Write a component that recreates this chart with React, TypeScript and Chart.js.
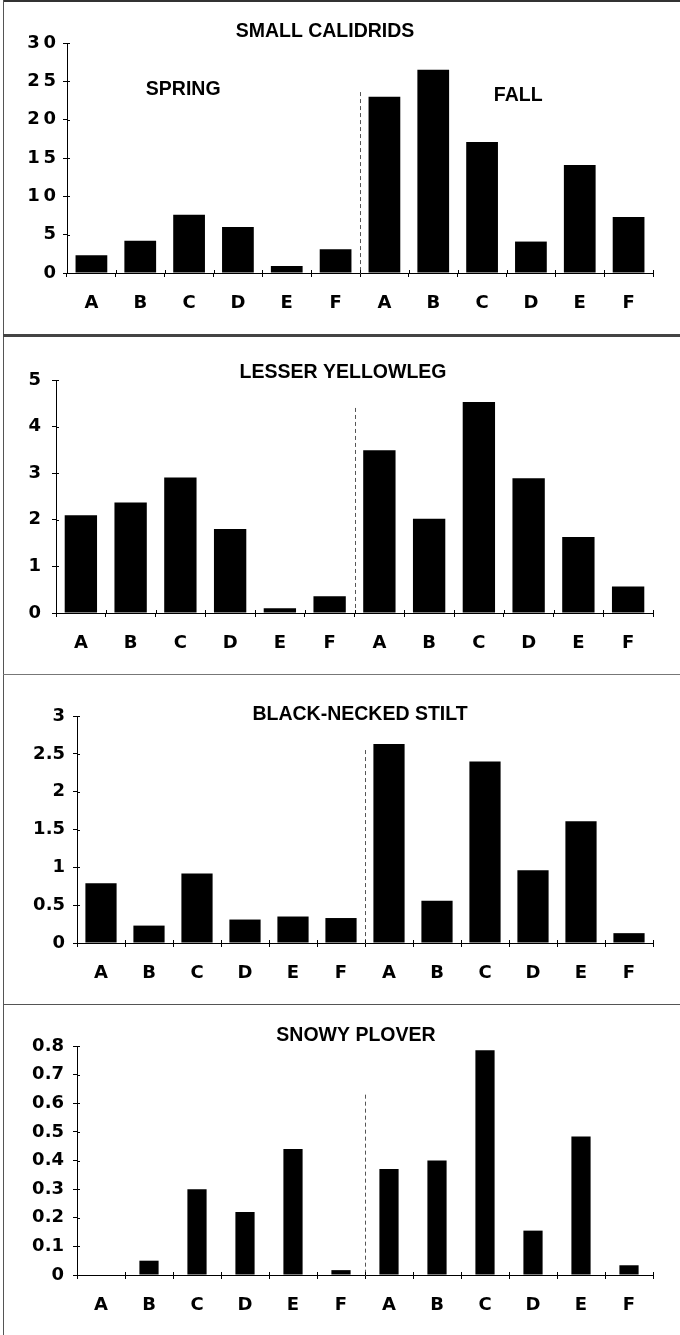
import React, { useEffect, useRef } from "react";
import { Chart, registerables } from "chart.js";

Chart.register(...registerables);

// ---------- data ----------
const categories = ["A", "B", "C", "D", "E", "F", "A", "B", "C", "D", "E", "F"];
const calidrids = [2.3, 4.2, 7.6, 6.0, 0.9, 3.1, 23.0, 26.5, 17.1, 4.1, 14.1, 7.3];
const yellowleg = [2.1, 2.37, 2.91, 1.8, 0.1, 0.36, 3.49, 2.02, 4.53, 2.89, 1.63, 0.57];
const stilt = [0.79, 0.23, 0.92, 0.31, 0.35, 0.33, 2.63, 0.56, 2.4, 0.96, 1.61, 0.13];
const plover = [0, 0.05, 0.3, 0.22, 0.44, 0.017, 0.37, 0.4, 0.785, 0.155, 0.484, 0.034];
const titles = ["SMALL CALIDRIDS", "LESSER YELLOWLEG", "BLACK-NECKED STILT", "SNOWY PLOVER"];
const yMax = [30, 5, 3, 0.8];
const yStep = [5, 1, 0.5, 0.1];
const seasonLabels = ["SPRING", "FALL"];
// where the season labels sit (category index, value) in the first panel
const seasonIndex = [1.88, 8.74];
const seasonValue = [23.9, 23.2];
// top of the dashed spring/fall divider, in data units
const dividerTop = [23.6, 4.4, 2.55, 0.63];

// ---------- layout (pixels) ----------
const panels = [
  { series: calidrids, top: 0, height: 335, axisX: 67, chartTop: 43, chartBottom: 273, titleX: 325, titleY: 32, barPct: 0.65, tickPad: 7, spaced: true },
  { series: yellowleg, top: 335, height: 339, axisX: 56, chartTop: 45, chartBottom: 278, titleX: 343, titleY: 38, barPct: 0.65, tickPad: 11, spaced: false },
  { series: stilt, top: 674, height: 330, axisX: 77, chartTop: 42, chartBottom: 269, titleX: 360, titleY: 41, barPct: 0.65, tickPad: 8, spaced: false },
  { series: plover, top: 1004, height: 331, axisX: 77, chartTop: 42, chartBottom: 271, titleX: 356, titleY: 32, barPct: 0.4, tickPad: 9, spaced: false },
];

const W = 680;
const AXIS_RIGHT = 653;
const tickFont = { family: "'DejaVu Sans', sans-serif", size: 18, weight: "bold" as const };
const titleFont = "bold 19.5px 'Liberation Sans', Arial, sans-serif";

function Panel({ idx }: { idx: number }) {
  const ref = useRef<HTMLCanvasElement | null>(null);
  const p = panels[idx];

  useEffect(() => {
    if (!ref.current) return;
    const decor = {
      id: "decor" + idx,
      afterDatasetsDraw(chart: any) {
        const ctx = chart.ctx;
        const xs = chart.scales.x;
        const ys = chart.scales.y;
        const area = chart.chartArea;
        ctx.save();
        // dashed divider between spring and fall
        const dx = Math.round(xs.getPixelForValue(5.5)) + 0.5;
        ctx.strokeStyle = "#555";
        ctx.lineWidth = 1;
        ctx.setLineDash([4, 3]);
        ctx.beginPath();
        ctx.moveTo(dx, ys.getPixelForValue(dividerTop[idx]));
        ctx.lineTo(dx, area.bottom);
        ctx.stroke();
        ctx.setLineDash([]);
        // inward halves of the tick marks
        ctx.strokeStyle = "#000";
        ctx.beginPath();
        ys.ticks.forEach((t: any) => {
          const y = Math.round(ys.getPixelForValue(t.value)) + 0.5;
          ctx.moveTo(area.left, y);
          ctx.lineTo(area.left + 3, y);
        });
        for (let i = 0; i <= categories.length; i++) {
          const x = Math.round(xs.getPixelForValue(i - 0.5)) + 0.5;
          ctx.moveTo(x, area.bottom);
          ctx.lineTo(x, area.bottom - 3);
        }
        ctx.stroke();
        // title
        ctx.fillStyle = "#000";
        ctx.font = titleFont;
        ctx.textAlign = "center";
        ctx.textBaseline = "middle";
        ctx.fillText(titles[idx], p.titleX, p.titleY);
        if (idx === 0) {
          seasonLabels.forEach((s, i) => {
            ctx.fillText(s, xs.getPixelForValue(seasonIndex[i]), ys.getPixelForValue(seasonValue[i]));
          });
        }
        ctx.restore();
      },
    };

    const chart = new Chart(ref.current, {
      type: "bar",
      data: {
        labels: categories,
        datasets: [
          {
            data: p.series,
            backgroundColor: "#000",
            borderWidth: 0,
            barPercentage: p.barPct,
            categoryPercentage: 1,
          },
        ],
      },
      options: {
        animation: false,
        responsive: false,
        maintainAspectRatio: false,
        devicePixelRatio: 1,
        layout: { padding: { top: p.chartTop, right: W - AXIS_RIGHT, bottom: 0, left: 0 } },
        plugins: { legend: { display: false }, tooltip: { enabled: false }, title: { display: false } },
        scales: {
          x: {
            type: "category",
            offset: true,
            grid: { offset: true, drawOnChartArea: false, drawTicks: true, tickLength: 4, color: "#000", lineWidth: 1 },
            border: { display: true, color: "#000", width: 1 },
            ticks: { font: tickFont, color: "#000", padding: 16, maxRotation: 0, autoSkip: false },
            afterFit: (s: any) => {
              s.height = p.height - p.chartBottom;
            },
          },
          y: {
            min: 0,
            max: yMax[idx],
            grid: { drawOnChartArea: false, drawTicks: true, tickLength: 4, color: "#000", lineWidth: 1 },
            border: { display: true, color: "#000", width: 1 },
            ticks: {
              stepSize: yStep[idx],
              font: tickFont,
              color: "#000",
              padding: p.tickPad,
              callback: (v: any) => {
                const s = String(Math.round(Number(v) * 10) / 10);
                return p.spaced ? s.split("").join("\u2009") : s;
              },
            },
            afterFit: (s: any) => {
              s.width = p.axisX;
            },
          },
        },
      },
      plugins: [decor],
    } as any);
    return () => chart.destroy();
  }, [idx]);

  return (
    <canvas
      ref={ref}
      width={W}
      height={p.height}
      style={{ position: "absolute", left: 0, top: p.top, width: W, height: p.height, display: "block" }}
    />
  );
}

export default function App() {
  const line = (style: React.CSSProperties) => <div style={{ position: "absolute", ...style }} />;
  return (
    <div style={{ position: "absolute", left: 0, top: 0, width: W, height: 1335, background: "#fff", overflow: "hidden" }}>
      {panels.map((_, i) => (
        <Panel key={i} idx={i} />
      ))}
      {line({ left: 3, top: 0, width: 677, height: 2, background: "#333" })}
      {line({ left: 3, top: 0, width: 1, height: 1335, background: "#555" })}
      {line({ left: 3, top: 334, width: 677, height: 3, background: "#444" })}
      {line({ left: 3, top: 674, width: 677, height: 1, background: "#777" })}
      {line({ left: 3, top: 1004, width: 677, height: 1, background: "#555" })}
    </div>
  );
}
